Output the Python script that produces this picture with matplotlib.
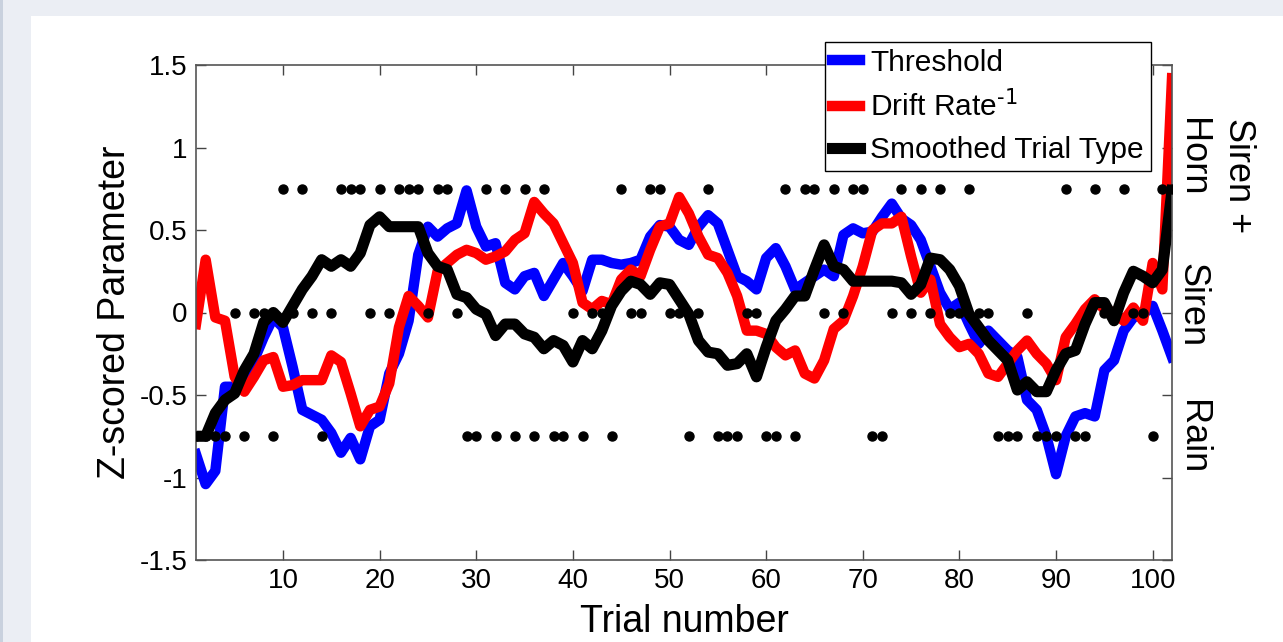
import matplotlib; matplotlib.use('Agg')
import matplotlib.pyplot as plt
import numpy as np
from matplotlib.patches import Rectangle
from matplotlib.ticker import FormatStrFormatter

plt.rcParams['font.family'] = ['Liberation Sans', 'DejaVu Sans']
plt.rcParams['axes.unicode_minus'] = False

# trial types: R = Rain, S = Siren, H = Siren + Horn
trial_types = list('RRRRSRSSRHSHSRSHHHSHSHHHSHHSRRHRHRHRHRRSRSSRHSSHHSSRSHRRRSSRRHRHHSHSHHRRSHSHSHSSHSSRRRSRRRHRRHSSHSSRHH')
type_level = {'R': -0.75, 'S': 0.0, 'H': 0.75}

threshold = [-0.86, -1.04, -0.96, -0.45, -0.45, -0.41, -0.29, -0.15, -0.03, -0.09,
             -0.33, -0.59, -0.62, -0.65, -0.73, -0.85, -0.76, -0.89, -0.69, -0.65,
             -0.37, -0.25, -0.05, 0.35, 0.52, 0.46, 0.51, 0.54, 0.74, 0.52,
             0.40, 0.42, 0.18, 0.14, 0.22, 0.24, 0.10, 0.20, 0.30, 0.22,
             0.13, 0.32, 0.32, 0.30, 0.29, 0.30, 0.32, 0.46, 0.53, 0.52,
             0.44, 0.41, 0.52, 0.59, 0.54, 0.38, 0.22, 0.19, 0.14, 0.33,
             0.39, 0.28, 0.14, 0.18, 0.22, 0.26, 0.22, 0.47, 0.51, 0.48,
             0.49, 0.58, 0.66, 0.57, 0.53, 0.44, 0.28, 0.12, 0.02, 0.06,
             -0.07, -0.19, -0.11, -0.17, -0.23, -0.27, -0.53, -0.59, -0.75, -0.98,
             -0.75, -0.63, -0.61, -0.63, -0.35, -0.29, -0.11, -0.03, -0.01, 0.04,
             -0.11, -0.27]

drift_inv = [-0.07, 0.32, -0.03, -0.05, -0.39, -0.48, -0.39, -0.29, -0.27, -0.45,
             -0.44, -0.41, -0.41, -0.41, -0.26, -0.30, -0.49, -0.69, -0.59, -0.57,
             -0.43, -0.09, 0.10, 0.04, -0.03, 0.25, 0.30, 0.35, 0.38, 0.36,
             0.32, 0.34, 0.37, 0.44, 0.48, 0.67, 0.60, 0.54, 0.42, 0.30,
             0.06, 0.02, 0.07, 0.05, 0.20, 0.26, 0.22, 0.38, 0.52, 0.54,
             0.70, 0.60, 0.46, 0.35, 0.33, 0.24, 0.10, -0.11, -0.11, -0.13,
             -0.21, -0.26, -0.23, -0.37, -0.40, -0.29, -0.10, -0.05, 0.10, 0.28,
             0.50, 0.54, 0.54, 0.58, 0.34, 0.12, 0.20, -0.07, -0.15, -0.21,
             -0.19, -0.25, -0.37, -0.39, -0.31, -0.23, -0.17, -0.25, -0.31, -0.41,
             -0.15, -0.07, 0.02, 0.08, 0.02, 0.00, -0.05, 0.03, -0.05, 0.30,
             0.14, 1.42]

smoothed = [-0.75, -0.75, -0.61, -0.53, -0.49, -0.35, -0.25, -0.06, 0.00, -0.06,
            0.04, 0.14, 0.22, 0.32, 0.28, 0.32, 0.28, 0.36, 0.53, 0.58,
            0.52, 0.52, 0.52, 0.52, 0.36, 0.28, 0.26, 0.11, 0.09, 0.02,
            -0.01, -0.14, -0.07, -0.07, -0.13, -0.15, -0.22, -0.17, -0.20, -0.30,
            -0.17, -0.22, -0.11, 0.04, 0.13, 0.19, 0.17, 0.11, 0.18, 0.17,
            0.08, -0.01, -0.17, -0.24, -0.25, -0.32, -0.31, -0.25, -0.39, -0.21,
            -0.05, 0.02, 0.10, 0.10, 0.26, 0.41, 0.28, 0.26, 0.19, 0.19,
            0.19, 0.19, 0.19, 0.18, 0.11, 0.17, 0.33, 0.32, 0.26, 0.16,
            -0.01, -0.09, -0.17, -0.23, -0.29, -0.47, -0.42, -0.48, -0.48, -0.35,
            -0.25, -0.23, -0.07, 0.06, 0.06, -0.05, 0.12, 0.25, 0.22, 0.18,
            0.26, 0.74]

trials = np.arange(1, len(threshold) + 1)
type_y = [type_level[t] for t in trial_types]

fig = plt.figure(figsize=(12.83, 6.42), dpi=100, facecolor='#EBEEF4')
fig.patches.append(Rectangle((31/1283, 0), 1 - 31/1283, 1 - 16/642, transform=fig.transFigure,
                             facecolor='white', edgecolor='none', zorder=-10))
fig.patches.append(Rectangle((0, 0), 3/1283, 1, transform=fig.transFigure,
                             facecolor='#C9D1DE', edgecolor='none', zorder=-10))

ax = fig.add_axes([196/1283, 1 - 560/642, (1172-196)/1283, (560-65)/642])
ax.plot(trials, threshold, color='#0000FF', lw=7.5, label='Threshold')
ax.plot(trials, drift_inv, color='#FF0000', lw=7.5, label='Drift Rate$^{\\text{-1}}$')
ax.plot(trials, smoothed, color='black', lw=8, label='Smoothed Trial Type')
ax.plot(trials, type_y, 'o', color='black', ms=6.5, zorder=5)

ax.set_xlim(1, 102); ax.set_ylim(-1.5, 1.5)
ax.set_xticks(range(10, 101, 10))
ax.set_yticks([-1.5, -1, -0.5, 0, 0.5, 1, 1.5])
ax.yaxis.set_major_formatter(FormatStrFormatter('%g'))
ax.tick_params(direction='in', length=7, width=1, top=True, right=True, labelsize=20, pad=6, color='#444444')
for s in ax.spines.values():
    s.set_color('#555555'); s.set_linewidth(1.2)
ax.set_xlabel('Trial number', fontsize=27, labelpad=7)
ax.set_ylabel('Z-scored Parameter', fontsize=27, labelpad=5)

leg = ax.legend(loc='upper right', bbox_to_anchor=(0.978, 1.046), borderaxespad=0, fontsize=21.5,
                fancybox=False, framealpha=1, edgecolor='black', handlelength=0.95,
                handletextpad=0.35, borderpad=0.22, labelspacing=0.45)
leg.get_frame().set_linewidth(1)

# right-side trial type labels
ax.text(102.3, 1.18, 'Siren +\nHorn', rotation=-90, ha='left', va='top', multialignment='left',
        fontsize=26, clip_on=False, linespacing=1.4)
ax.text(102.3, 0.045, 'Siren', rotation=-90, ha='left', va='center', fontsize=26, clip_on=False)
ax.text(102.3, -0.757, 'Rain', rotation=-90, ha='left', va='center', fontsize=26, clip_on=False)

fig.savefig('out.png', dpi=100, facecolor=fig.get_facecolor())
